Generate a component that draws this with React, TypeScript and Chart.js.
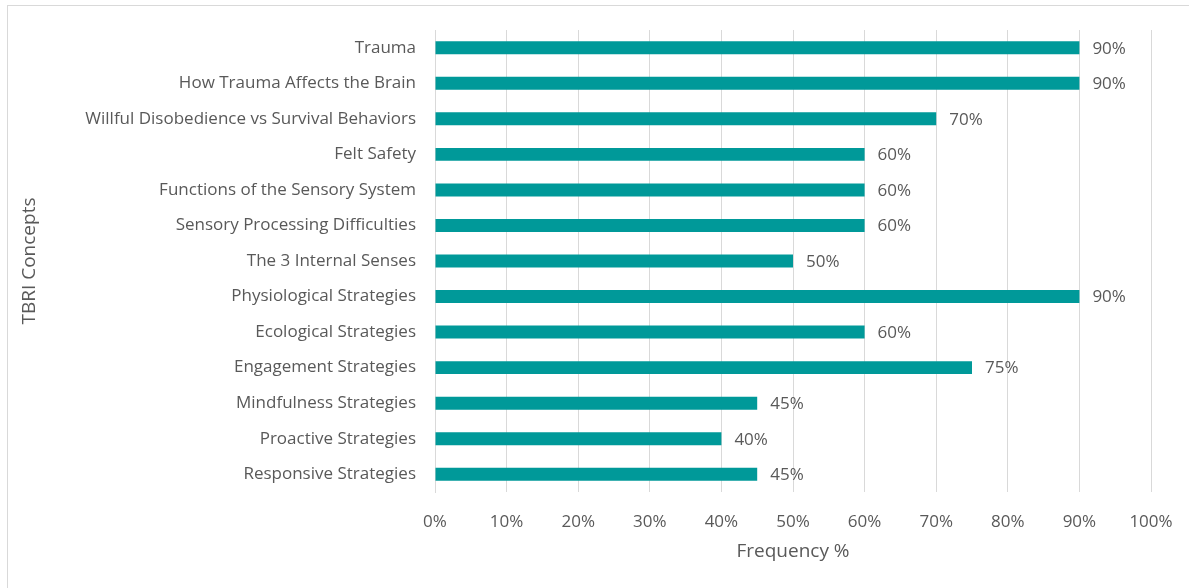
import React, { useEffect, useRef } from "react";
import { Chart, registerables } from "chart.js";

Chart.register(...registerables);

const categories = [
  "Trauma",
  "How Trauma Affects the Brain",
  "Willful Disobedience vs Survival Behaviors",
  "Felt Safety",
  "Functions of the Sensory System",
  "Sensory Processing Difficulties",
  "The 3 Internal Senses",
  "Physiological Strategies",
  "Ecological Strategies",
  "Engagement Strategies",
  "Mindfulness Strategies",
  "Proactive Strategies",
  "Responsive Strategies",
];
const frequency = [90, 90, 70, 60, 60, 60, 50, 90, 60, 75, 45, 40, 45];
const xTickMin = 0;
const xTickMax = 100;
const xTickStep = 10;
const xTitle = "Frequency %";
const yTitle = "TBRI Concepts";

const FONT = "'Open Sans', 'Noto Sans', sans-serif";
const TEXT = "#595959";
const BAR = "#009999";

const valueLabels = {
  id: "valueLabels",
  afterDatasetsDraw(chart: any) {
    const ctx = chart.ctx;
    const meta = chart.getDatasetMeta(0);
    ctx.save();
    ctx.font = `17px ${FONT}`;
    ctx.fillStyle = TEXT;
    ctx.textAlign = "left";
    ctx.textBaseline = "middle";
    meta.data.forEach((el: any, i: number) => {
      ctx.fillText(`${frequency[i]}%`, el.x + 13, el.y + 1);
    });
    ctx.restore();
  },
};

export default function App() {
  const ref = useRef<HTMLCanvasElement>(null);
  useEffect(() => {
    document.body.style.margin = "0";
    const chart = new Chart(ref.current!, {
      type: "bar",
      data: {
        labels: categories,
        datasets: [
          {
            data: frequency,
            backgroundColor: BAR,
            borderWidth: 0,
            categoryPercentage: 1,
            barPercentage: 0.365,
          },
        ],
      },
      plugins: [valueLabels],
      options: {
        indexAxis: "y",
        animation: false,
        responsive: false,
        layout: { padding: { top: 30, right: 38, bottom: 8, left: 0 } },
        plugins: { legend: { display: false }, tooltip: { enabled: false } },
        scales: {
          x: {
            min: xTickMin,
            max: xTickMax,
            ticks: {
              stepSize: xTickStep,
              callback: (v: any) => `${v}%`,
              color: TEXT,
              font: { family: FONT, size: 17 },
              padding: 20,
            },
            grid: { color: "#d9d9d9", drawTicks: false, lineWidth: 1 },
            border: { display: false },
            title: {
              display: true,
              text: xTitle,
              color: TEXT,
              font: { family: FONT, size: 19 },
              padding: { top: 0, bottom: 17 },
            },
            afterFit: (s: any) => {
              s.height = 588 - 492 - 8;
              s.paddingLeft = 0;
              s.paddingRight = 0;
            },
          },
          y: {
            ticks: {
              color: TEXT,
              font: { family: FONT, size: 17 },
              padding: 19,
            },
            grid: { display: false, drawTicks: false },
            border: { display: true, color: "#d9d9d9" },
            title: {
              display: true,
              text: yTitle,
              color: TEXT,
              font: { family: FONT, size: 19 },
              padding: { top: 18, bottom: 0 },
            },
            afterFit: (s: any) => {
              s.width = 435;
              s.paddingTop = 0;
              s.paddingBottom = 0;
            },
          },
        },
      },
    });
    return () => chart.destroy();
  }, []);
  return (
    <div style={{ position: "relative", width: 1189, height: 588, overflow: "hidden", background: "#fff" }}>
      <div
        style={{
          position: "absolute",
          left: 7,
          top: 5,
          width: 1300,
          height: 700,
          border: "1px solid #d9d9d9",
          boxSizing: "border-box",
        }}
      />
      <canvas ref={ref} width={1189} height={588} style={{ position: "absolute", left: 0, top: 0 }} />
    </div>
  );
}
